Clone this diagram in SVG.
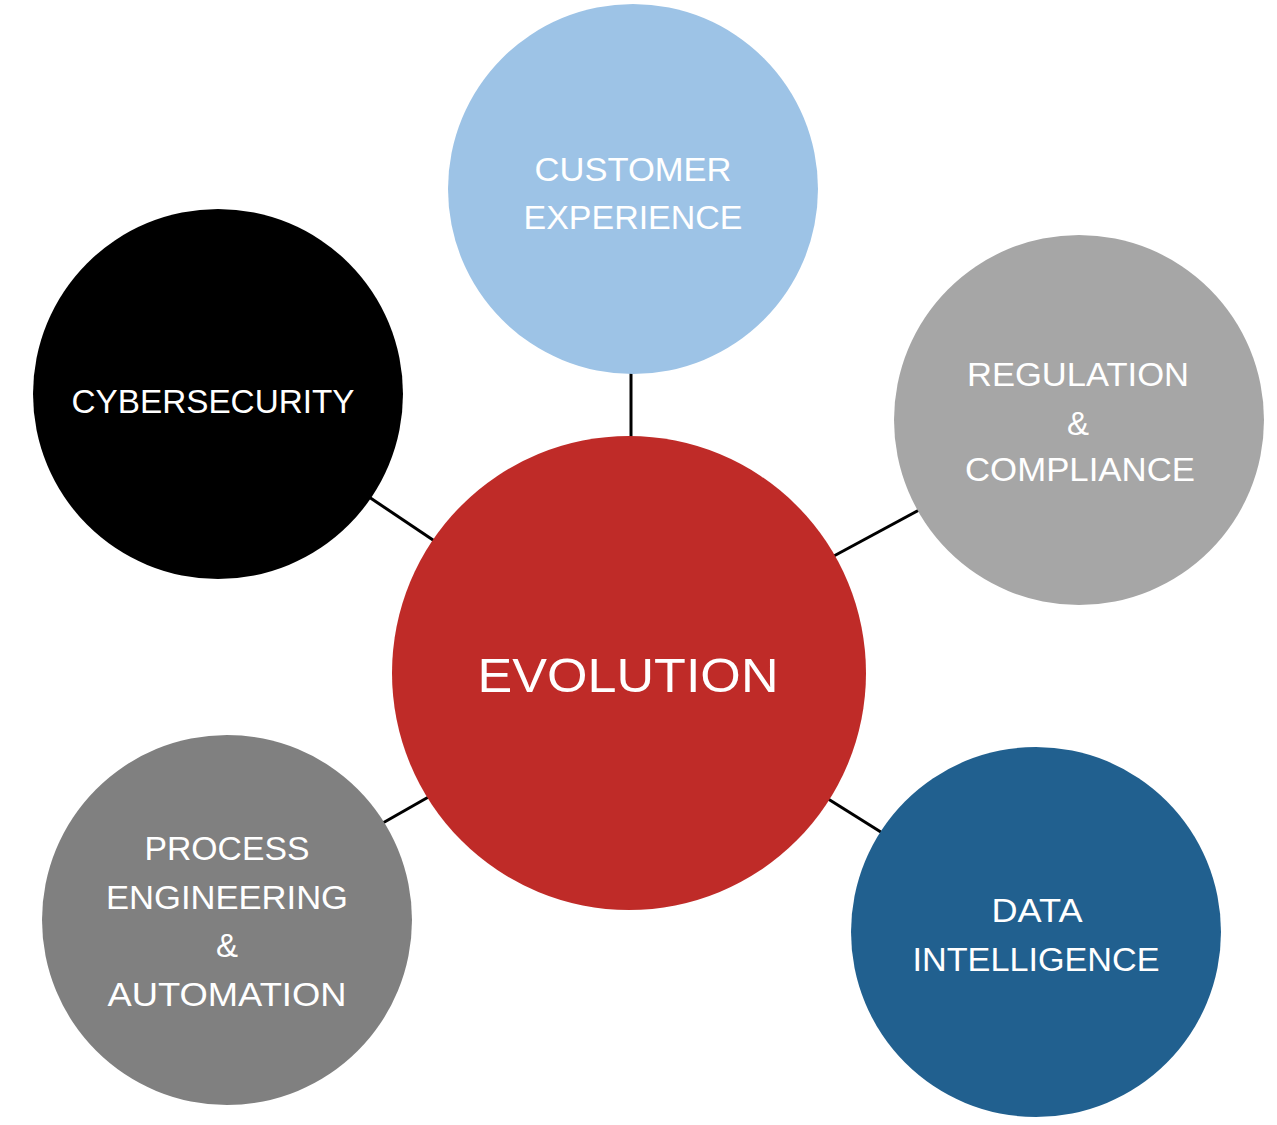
<svg xmlns="http://www.w3.org/2000/svg" width="1277" height="1125" viewBox="0 0 1277 1125">
<style>
.lbl{font-family:"Liberation Sans","Arial",sans-serif;font-size:33px;fill:#ffffff;text-anchor:middle;}
.big{font-family:"Liberation Sans","Arial",sans-serif;font-size:49px;fill:#ffffff;text-anchor:middle;}
.conn{stroke:#000000;stroke-width:3;fill:none;}
</style>
<rect width="1277" height="1125" fill="#ffffff"/>
<g id="connectors">
<line class="conn" x1="631" y1="370" x2="631" y2="440"/>
<line class="conn" x1="366" y1="495" x2="436" y2="542"/>
<line class="conn" x1="832" y1="557" x2="921" y2="509"/>
<line class="conn" x1="381" y1="824" x2="432" y2="795"/>
<line class="conn" x1="825" y1="797" x2="884" y2="834"/>
</g>
<g id="customer-experience">
<circle cx="633" cy="189" r="185" fill="#9DC3E6"/>
<text class="lbl" x="633" y="181" textLength="197" lengthAdjust="spacingAndGlyphs">CUSTOMER</text>
<text class="lbl" x="633" y="229" textLength="219" lengthAdjust="spacingAndGlyphs">EXPERIENCE</text>
</g>
<g id="cybersecurity">
<circle cx="218" cy="394" r="185" fill="#000000"/>
<text class="lbl" x="213" y="413" textLength="283" lengthAdjust="spacingAndGlyphs">CYBERSECURITY</text>
</g>
<g id="regulation-compliance">
<circle cx="1079" cy="420" r="185" fill="#A6A6A6"/>
<text class="lbl" x="1078" y="386" textLength="222" lengthAdjust="spacingAndGlyphs">REGULATION</text>
<text class="lbl" x="1078" y="435">&amp;</text>
<text class="lbl" x="1080" y="481" textLength="230" lengthAdjust="spacingAndGlyphs">COMPLIANCE</text>
</g>
<g id="evolution">
<circle cx="629" cy="673" r="237" fill="#BF2B28"/>
<text class="big" x="628" y="692" textLength="301" lengthAdjust="spacingAndGlyphs">EVOLUTION</text>
</g>
<g id="process-engineering-automation">
<circle cx="227" cy="920" r="185" fill="#808080"/>
<text class="lbl" x="227" y="860" textLength="165" lengthAdjust="spacingAndGlyphs">PROCESS</text>
<text class="lbl" x="227" y="909" textLength="242" lengthAdjust="spacingAndGlyphs">ENGINEERING</text>
<text class="lbl" x="227" y="957">&amp;</text>
<text class="lbl" x="227" y="1006" textLength="239" lengthAdjust="spacingAndGlyphs">AUTOMATION</text>
</g>
<g id="data-intelligence">
<circle cx="1036" cy="932" r="185" fill="#21608F"/>
<text class="lbl" x="1037" y="922" textLength="91" lengthAdjust="spacingAndGlyphs">DATA</text>
<text class="lbl" x="1036" y="971" textLength="247" lengthAdjust="spacingAndGlyphs">INTELLIGENCE</text>
</g>
</svg>
